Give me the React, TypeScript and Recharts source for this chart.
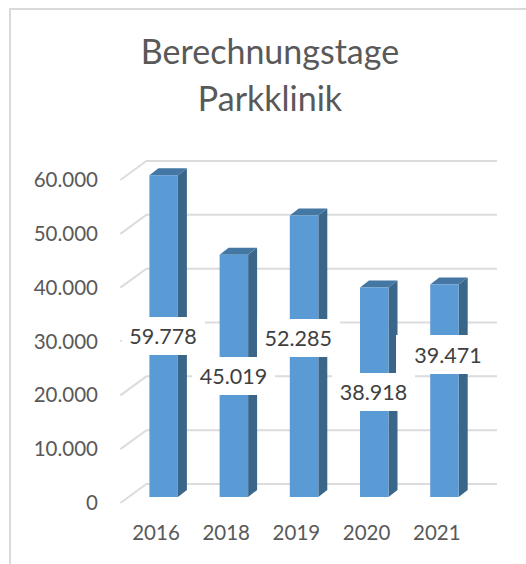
import { BarChart, Bar, XAxis, YAxis, CartesianGrid, LabelList } from 'recharts';

const years = ['2016', '2018', '2019', '2020', '2021'];
const berechnungstage = [59778, 45019, 52285, 38918, 39471];
const yTicks = [0, 10000, 20000, 30000, 40000, 50000, 60000];
const titleLines = ['Berechnungstage', 'Parkklinik'];

const data = years.map((year, i) => ({ year, value: berechnungstage[i] }));

const fontFamily = 'Lato, "Open Sans", sans-serif';
const formatDe = (v: number) => v.toLocaleString('de-DE');

// fake 3D column: front face, side and top
function Column3D({ x, y, width, height }: any) {
  const dx = 9;
  const dy = 7;
  return (
    <g>
      <path
        d={`M${x + width},${y} l${dx},${-dy} v${height} l${-dx},${dy} z`}
        fill="#3A6689"
      />
      <path
        d={`M${x},${y} l${dx},${-dy} h${width} l${-dx},${dy} z`}
        fill="#4477A3"
      />
      <rect x={x} y={y} width={width} height={height} fill="#5B9BD5" />
    </g>
  );
}

// gridlines run along the side wall, then across the back wall
function GridLine({ x1, x2, y1 }: any) {
  return (
    <path
      d={`M${x1 - 8},${y1 + 6} L${x1 + 18},${y1 - 13} L${x2 + 17.6},${y1 - 13}`}
      fill="none"
      stroke="#DCDCDC"
      strokeWidth={2}
    />
  );
}

// white label boxes as placed by hand in the original
const labelBoxes = [
  { left: 122, right: 205, top: 317, bottom: 355, textX: 163 },
  { left: 192, right: 275, top: 357, bottom: 395, textX: 233.5 },
  { left: 257, right: 340, top: 319, bottom: 357, textX: 298.3 },
  { left: 332, right: 415, top: 373, bottom: 411, textX: 373.5 },
  { left: 396, right: 490, top: 335, bottom: 374, textX: 448 },
];

function BoxedLabel({ value, index }: any) {
  const box = labelBoxes[index];
  return (
    <g>
      <rect x={box.left} y={box.top} width={box.right - box.left} height={box.bottom - box.top} fill="#FFFFFF" />
      <text
        x={box.textX}
        y={(box.top + box.bottom) / 2 + 8}
        textAnchor="middle"
        fontSize={21.5}
        fontFamily={fontFamily}
        fill="#404040"
      >
        {formatDe(value)}
      </text>
    </g>
  );
}

export default function App() {
  return (
    <div style={{ position: 'absolute', left: 0, top: 0, width: 526, height: 564, overflow: 'hidden', background: '#fff' }}>
      <div
        style={{
          position: 'absolute',
          left: 9,
          top: 8,
          width: 517,
          height: 556,
          borderLeft: '2px solid #D9D9D9',
          borderTop: '2px solid #D9D9D9',
          boxSizing: 'border-box',
        }}
      />
      <div style={{ position: 'absolute', left: 0, top: 0 }}>
        <BarChart
          width={526}
          height={564}
          data={data}
          margin={{ top: 174, right: 46.6, bottom: 0, left: 0 }}
          barSize={28.5}
        >
          <text x={270} y={64} textAnchor="middle" fontSize={34} fontFamily={fontFamily} fill="#595959">
            {titleLines[0]}
          </text>
          <text x={270} y={111} textAnchor="middle" fontSize={34} fontFamily={fontFamily} fill="#595959">
            {titleLines[1]}
          </text>
          <CartesianGrid vertical={false} horizontal={(props: any) => <GridLine key={props.index} {...props} />} />
          <XAxis
            dataKey="year"
            axisLine={false}
            tickLine={false}
            height={67}
            interval={0}
            tick={({ x, index }: any) => (
              <text x={x - 7.5} y={540} textAnchor="middle" fontSize={20.5} fontFamily={fontFamily} fill="#595959">
                {years[index]}
              </text>
            )}
          />
          <YAxis
            domain={[0, 60000]}
            ticks={yTicks}
            interval={0}
            axisLine={false}
            tickLine={false}
            width={128.4}
            tick={({ y, payload }: any) => (
              <text x={98} y={y + 13} textAnchor="end" fontSize={20.5} fontFamily={fontFamily} fill="#595959">
                {formatDe(payload.value)}
              </text>
            )}
          />
          <Bar dataKey="value" shape={<Column3D />} isAnimationActive={false}>
            <LabelList dataKey="value" content={(props: any) => <BoxedLabel {...props} />} />
          </Bar>
        </BarChart>
      </div>
    </div>
  );
}
